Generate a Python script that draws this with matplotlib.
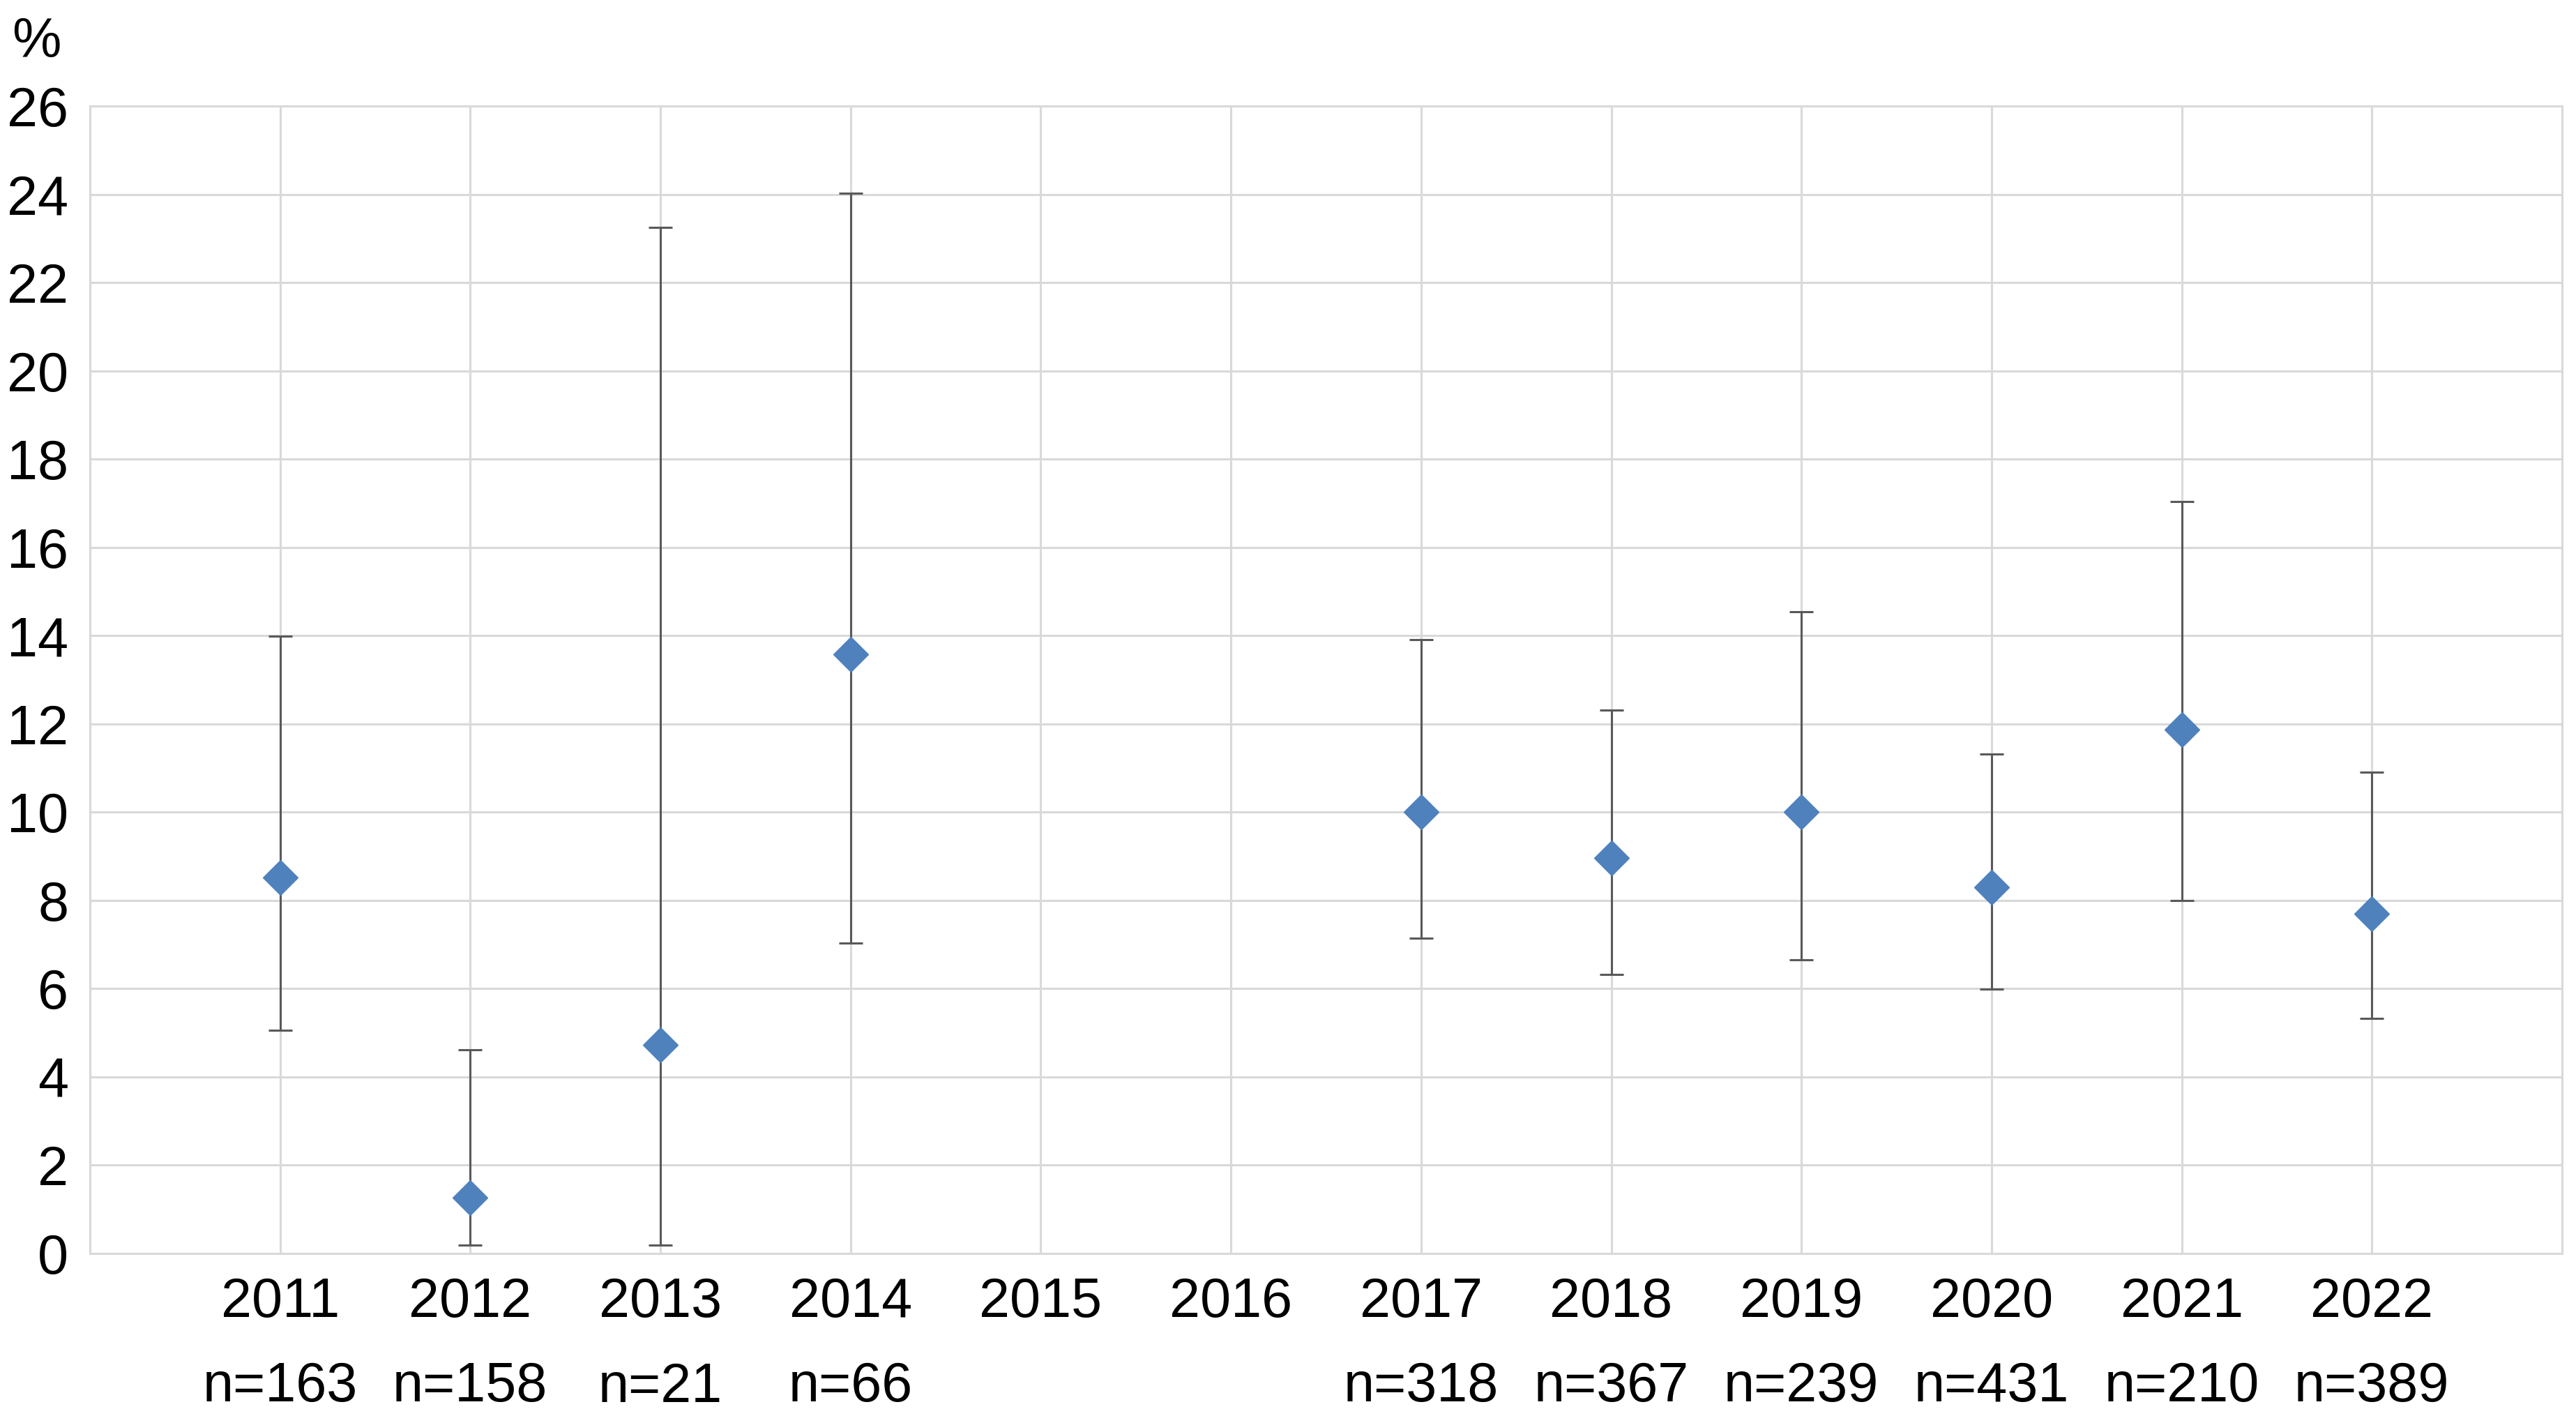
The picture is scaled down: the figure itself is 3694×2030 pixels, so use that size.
import matplotlib
matplotlib.use("Agg")
import matplotlib.pyplot as plt
import numpy as np

plt.rcParams['font.family'] = ['Liberation Sans', 'DejaVu Sans']

years = ["2011", "2012", "2013", "2014", "2015", "2016", "2017", "2018", "2019", "2020", "2021", "2022"]
n_labels = ["n=163", "n=158", "n=21", "n=66", "", "", "n=318", "n=367", "n=239", "n=431", "n=210", "n=389"]
values = [8.52, 1.26, 4.72, 13.58, np.nan, np.nan, 10.0, 8.96, 10.0, 8.29, 11.87, 7.70]
upper = [13.99, 4.61, 23.25, 24.03, np.nan, np.nan, 13.91, 12.31, 14.54, 11.31, 17.04, 10.90]
lower = [5.06, 0.19, 0.19, 7.03, np.nan, np.nan, 7.14, 6.32, 6.66, 5.99, 8.00, 5.32]
yticks = list(range(0, 27, 2))

W, H = 3694, 2030
fig = plt.figure(figsize=(W / 100, H / 100), dpi=100)
ax = fig.add_axes([129 / W, 1 - 1797 / H, (3674 - 129) / W, (1797 - 152) / H])

x = np.arange(1, len(years) + 1)
vals = np.array(values)
up = np.array(upper)
lo = np.array(lower)
mask = ~np.isnan(vals)

ax.errorbar(x[mask], vals[mask], yerr=[vals[mask] - lo[mask], up[mask] - vals[mask]],
            fmt='none', ecolor='#595959', elinewidth=2.2, capsize=12, capthick=2.2, zorder=3)
ax.plot(x[mask], vals[mask], linestyle='none', marker='D', markersize=25,
        color='#4F81BD', markeredgecolor='#4F81BD', zorder=4)

ax.set_xlim(0, len(years) + 1)
ax.set_ylim(0, 26)
ax.set_yticks(yticks)
ax.set_yticklabels([str(t) for t in yticks], fontsize=57)
ax.set_xticks(x)
ax.set_xticklabels(years, fontsize=57)

ax.tick_params(axis='both', length=0)
ax.tick_params(axis='y', pad=22)
ax.tick_params(axis='x', pad=24)

ax.grid(True, which='major', axis='both', color='#D9D9D9', linewidth=2.2)
ax.set_axisbelow(True)
for s in ax.spines.values():
    s.set_color('#D9D9D9')
    s.set_linewidth(2.2)

n_y = (1797 - 1989) / (1797 - 152)
for xi, lab in zip(x, n_labels):
    if lab:
        ax.text(xi, n_y, lab, transform=ax.get_xaxis_transform(), fontsize=57,
                ha='center', va='center')

fig.text(52 / W, 1 - 61 / H, "%", fontsize=57, ha='center', va='center')

fig.savefig("out.png", dpi=100)
